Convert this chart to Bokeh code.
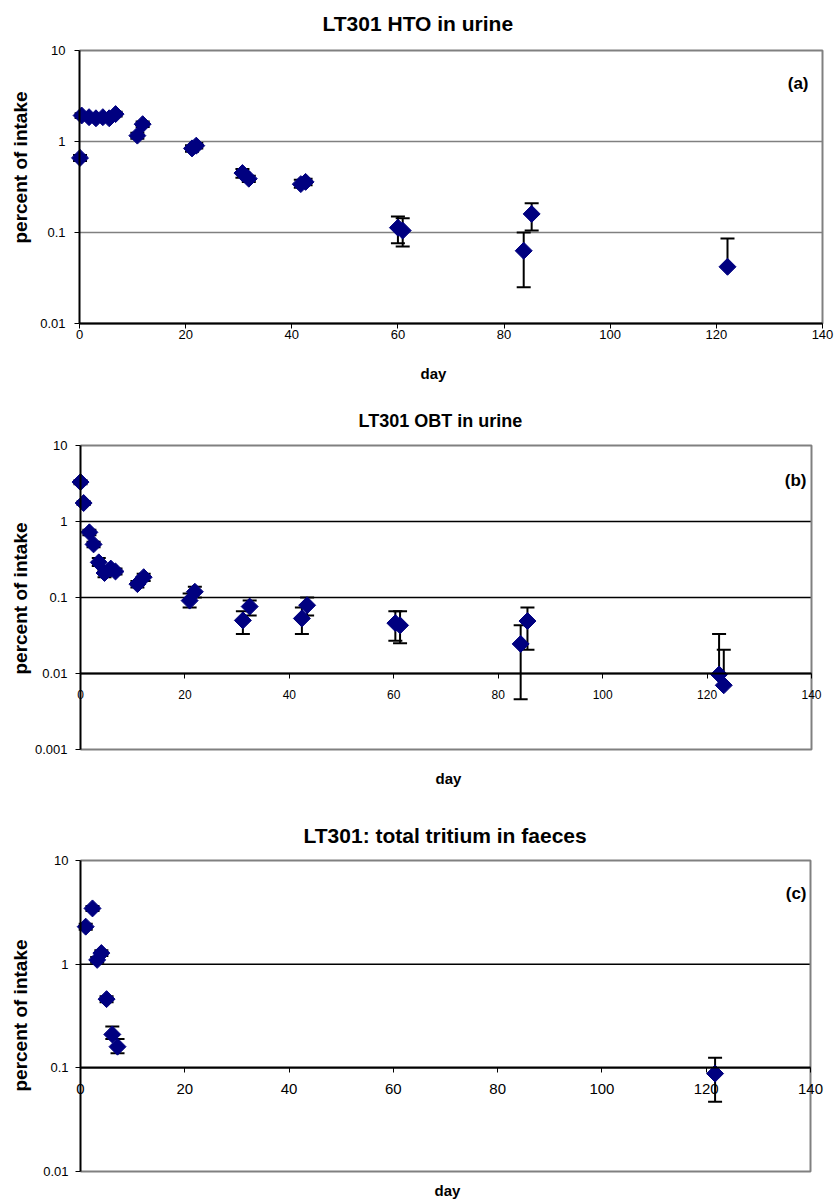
import numpy as np
from bokeh.plotting import figure
from bokeh.models import Range1d, FixedTicker, Label, Title, LinearAxis, NumeralTickFormatter
from bokeh.layouts import column
from bokeh.embed import file_html
from bokeh.resources import INLINE

# ---------------- data ----------------
# (a) LT301 HTO in urine
day_a = [0.1, 0.4, 1.8, 3.1, 4.4, 5.6, 6.8, 10.9, 11.9, 21.2, 22.0, 30.7, 31.9, 41.7, 42.6, 60.0, 60.9, 83.7, 85.2, 122.1]
val_a = [0.66, 1.93, 1.85, 1.80, 1.85, 1.80, 2.0, 1.16, 1.55, 0.84, 0.90, 0.45, 0.39, 0.34, 0.36, 0.113, 0.105, 0.063, 0.16, 0.042]
hi_a = [0.71, 2.05, 1.97, 1.92, 1.97, 1.92, 2.12, 1.25, 1.66, 0.91, 0.96, 0.50, 0.42, 0.38, 0.39, 0.150, 0.143, 0.100, 0.21, 0.086]
lo_a = [0.61, 1.81, 1.73, 1.68, 1.73, 1.68, 1.88, 1.07, 1.44, 0.77, 0.84, 0.40, 0.36, 0.31, 0.33, 0.076, 0.070, 0.025, 0.105, None]

# (b) LT301 OBT in urine
day_b = [0.0, 0.6, 1.7, 2.5, 3.5, 4.6, 5.8, 6.7, 10.9, 12.1, 20.9, 21.9, 31.1, 32.4, 42.4, 43.4, 60.3, 61.2, 84.3, 85.6, 122.3, 123.2]
val_b = [3.3, 1.75, 0.72, 0.50, 0.29, 0.21, 0.24, 0.22, 0.15, 0.185, 0.091, 0.119, 0.050, 0.076, 0.053, 0.079, 0.046, 0.043, 0.0245, 0.049, 0.0097, 0.0070]
hi_b = [3.5, 1.85, 0.78, 0.54, 0.33, 0.23, 0.26, 0.24, 0.165, 0.205, 0.113, 0.139, 0.066, 0.091, 0.074, 0.10, 0.066, 0.066, 0.043, 0.074, 0.033, 0.0205]
lo_b = [3.1, 1.65, 0.66, 0.46, 0.26, 0.185, 0.22, 0.20, 0.135, 0.165, 0.074, 0.10, 0.033, 0.058, 0.033, 0.058, 0.027, 0.025, 0.0046, 0.0205, None, None]

# (c) LT301: total tritium in faeces
day_c = [1.0, 2.3, 3.2, 4.0, 5.0, 6.1, 7.1, 121.7]
val_c = [2.3, 3.45, 1.1, 1.28, 0.46, 0.21, 0.16, 0.088]
hi_c = [2.45, 3.65, 1.17, 1.36, 0.49, 0.25, 0.19, 0.125]
lo_c = [2.15, 3.25, 1.03, 1.20, 0.43, 0.19, 0.138, 0.047]

x_ticks = [0, 20, 40, 60, 80, 100, 120, 140]
y_ticks_a = [0.01, 0.1, 1, 10]
y_ticks_b = [0.001, 0.01, 0.1, 1, 10]
y_ticks_c = [0.01, 0.1, 1, 10]

FONT = "Liberation Sans"
NAVY = "#000080"
W = 834


def panel(title, tag, days, vals, hi, lo, yticks, axis_at, geo, grid_color, sizes):
    # geo: layout in pixels (figure-relative)
    H, x0px, x140px, top10, botpx, ftop, fbot = (geo[k] for k in
        ("H", "x0", "x140", "top10", "bot", "ftop", "fbot"))
    ndec = np.log10(yticks[-1] / yticks[0])
    dec = (botpx - top10) / ndec            # pixels per decade
    s = (x140px - x0px) / (x_ticks[-1] - x_ticks[0])  # pixels per day
    xd = lambda px: x_ticks[0] + (px - x0px) / s
    yd = lambda py: yticks[-1] * 10 ** (-(py - top10) / dec)

    p = figure(width=W, height=H, x_range=Range1d(xd(0), xd(W)),
               y_range=Range1d(yd(fbot), yd(ftop)), y_axis_type="log",
               output_backend="svg", toolbar_location=None, x_axis_location=None,
               min_border_left=0, min_border_right=0, min_border_top=ftop,
               min_border_bottom=H - fbot)
    p.outline_line_color = None
    p.xgrid.visible = False
    p.ygrid.visible = False

    p.title.text = title
    p.title.align = "left"
    p.title.offset = geo["title_left"]
    p.title.text_font = FONT
    p.title.text_font_size = sizes["title"]
    p.title.text_font_style = "bold"
    p.title.text_color = "black"
    p.title.standoff = geo["title_standoff"]

    x_lo, x_hi = x_ticks[0], x_ticks[-1]
    y_lo, y_hi = yticks[0], yticks[-1]
    # grid lines at interior decades
    g = [t for t in yticks if y_lo < t < y_hi]
    p.segment(x0=[x_lo] * len(g), x1=[x_hi] * len(g), y0=g, y1=g,
              line_color=grid_color, line_width=1.5)
    # plot-area border (top, right, bottom)
    p.line(x=[x_lo, x_hi, x_hi, x_lo], y=[y_hi, y_hi, y_lo, y_lo],
           line_color="#808080", line_width=2)

    # y axis at x = 0
    ya = p.yaxis[0]
    ya.fixed_location = x_lo
    ya.bounds = (y_lo, y_hi)
    ya.ticker = FixedTicker(ticks=yticks)
    ya.formatter = NumeralTickFormatter(format="0.[000]")
    ya.minor_tick_line_color = None
    ya.major_tick_out = 5
    ya.major_tick_in = 0
    ya.axis_line_color = "black"
    ya.axis_line_width = 2
    ya.major_label_text_font = FONT
    ya.major_label_text_font_size = "13px"
    ya.major_label_text_color = "black"
    ya.major_label_standoff = geo["ytick_standoff"]

    # x axis at its crossing value
    xa = LinearAxis(ticker=FixedTicker(ticks=x_ticks), fixed_location=axis_at,
                    bounds=(x_lo, x_hi))
    xa.axis_line_color = "black"
    xa.axis_line_width = 2
    xa.major_tick_out = 5
    xa.major_tick_in = 0
    xa.minor_tick_line_color = None
    xa.major_label_text_font = FONT
    xa.major_label_text_font_size = sizes["xtick"]
    xa.major_label_text_color = "black"
    xa.major_label_standoff = geo["xtick_standoff"]
    p.add_layout(xa, "below")
    p.add_layout(Title(text="day", align="left", offset=geo["day_left"], text_font=FONT,
                       text_font_size="15px", text_font_style="bold",
                       text_color="black", standoff=geo["day_standoff"]), "below")

    # y axis title
    p.add_layout(Label(x=xd(geo["ylab_x"]), y=yd(geo["ylab_y"]), text="percent of intake",
                       angle=np.pi / 2, text_align="center", text_baseline="middle",
                       text_font=FONT, text_font_size="19px", text_font_style="bold",
                       text_color="black"))

    d = np.array(days, dtype=float)
    v = np.array(vals, dtype=float)
    h = np.array(hi, dtype=float)
    l = np.array([np.nan if x is None else x for x in lo], dtype=float)
    seg_lo = np.where(np.isnan(l), v, l)

    p.segment(x0=d, y0=seg_lo, x1=d, y1=h, line_color="black", line_width=2)
    p.scatter(x=d, y=h, marker="dash", size=14, line_color="black", line_width=2)
    mask = ~np.isnan(l)
    p.scatter(x=d[mask], y=l[mask], marker="dash", size=14, line_color="black", line_width=2)
    p.scatter(x=d, y=v, marker="square", angle=np.pi / 4, size=12,
              fill_color=NAVY, line_color=NAVY)

    p.add_layout(Label(x=xd(geo["tag_x"]), y=yd(geo["tag_y"]), text=tag, text_align="right",
                       text_baseline="middle", text_font=FONT, text_font_size="17px",
                       text_font_style="bold", text_color="black"))
    return p


geo_a = dict(H=395, x0=79, x140=822, top10=50, bot=323, ftop=40, fbot=350,
             title_left=322, title_standoff=11, day_left=420, day_standoff=24,
             xtick_standoff=1, ytick_standoff=9, ylab_x=20, ylab_y=167, tag_x=808, tag_y=83)
geo_b = dict(H=410, x0=80, x140=811, top10=50, bot=354, ftop=40, fbot=365,
             title_left=358, title_standoff=9, day_left=435, day_standoff=14,
             xtick_standoff=11, ytick_standoff=8, ylab_x=20, ylab_y=203, tag_x=806, tag_y=85)
geo_c = dict(H=395, x0=80, x140=810, top10=55, bot=366, ftop=45, fbot=373,
             title_left=303, title_standoff=8, day_left=434, day_standoff=3,
             xtick_standoff=11, ytick_standoff=7, ylab_x=20, ylab_y=210, tag_x=806, tag_y=88)

pa = panel("LT301 HTO in urine", "(a)", day_a, val_a, hi_a, lo_a, y_ticks_a,
           0.01, geo_a, "#808080", dict(xtick="13px", title="21px"))
pb = panel("LT301 OBT in urine", "(b)", day_b, val_b, hi_b, lo_b, y_ticks_b,
           0.01, geo_b, "black", dict(xtick="12px", title="18px"))
pc = panel("LT301: total tritium in faeces", "(c)", day_c, val_c, hi_c, lo_c, y_ticks_c,
           0.1, geo_c, "black", dict(xtick="15px", title="21px"))

layout = column(pa, pb, pc, spacing=0)
open("out.html", "w").write(file_html(layout, INLINE))
